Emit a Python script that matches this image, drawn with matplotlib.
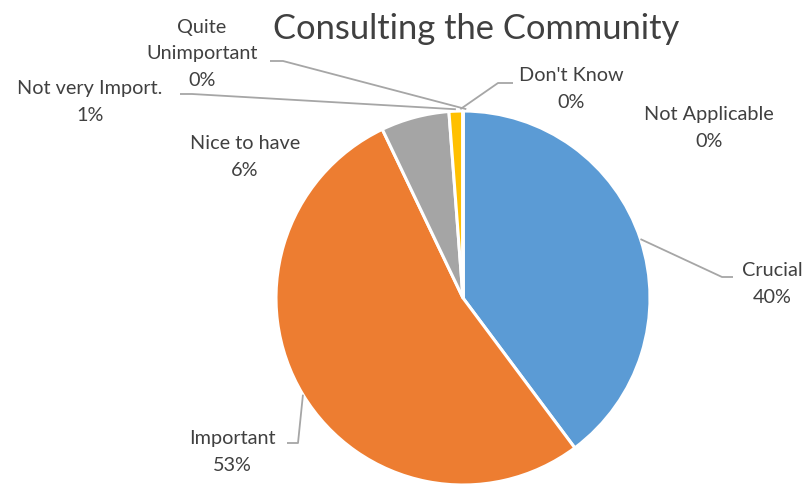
import matplotlib
matplotlib.use("Agg")
import matplotlib.pyplot as plt
import numpy as np

plt.rcParams['font.family'] = ['Lato', 'DejaVu Sans']

title = "Consulting the Community"
categories = ["Crucial", "Important", "Nice to have", "Not very Import.",
              "Quite\nUnimportant", "Don't Know", "Not Applicable"]
values = [39.8, 53.1, 5.9, 1.2, 0.0, 0.0, 0.0]
pct_labels = ["40%", "53%", "6%", "1%", "0%", "0%", "0%"]
colors = ["#5B9BD5", "#ED7D31", "#A5A5A5", "#FFC000", "#4472C4", "#70AD47", "#264478"]

W, H = 806, 486
fig = plt.figure(figsize=(W / 100, H / 100), dpi=100)
ax = fig.add_axes([0, 0, 1, 1])

cx, cy, R = 463, H - 298, 187
wedges, _ = ax.pie(values, colors=colors, startangle=90, counterclock=False,
                   center=(cx, cy), radius=R, frame=False,
                   wedgeprops=dict(edgecolor="white", linewidth=2.2))
ax.set_xlim(0, W)
ax.set_ylim(0, H)
ax.set_aspect("equal")
ax.set_axis_off()

txt_color = "#404040"
line_color = "#A6A6A6"
fs = 14.3

# label centre positions (pixel coords, y from top)
label_pos = {
    0: (772, 284),
    1: (232, 452),
    2: (245, 157),
    3: (90, 102),
    4: (202, 54),
    5: (571, 89),
    6: (709, 128),
}
elbows = {
    0: [(733, 277), (722, 277)],
    1: [(287, 443), (298, 443)],
    3: [(180, 94), (192, 94)],
    4: [(270, 61), (283, 61)],
    5: [(513, 83), (498, 83)],
}
pie_r = {0: 1.0, 1: 1.0, 3: 1.01, 4: 1.01, 5: 1.01}
angle_shift = {0: 0.0, 1: 0.0, 3: 0.0, 4: -1.0, 5: 0.8}

for i, (cat, pct) in enumerate(zip(categories, pct_labels)):
    x, y = label_pos[i]
    ax.text(x, H - y, f"{cat}\n{pct}", ha="center", va="center", fontsize=fs,
            color=txt_color, linespacing=1.7)
    if i in elbows:
        w = wedges[i]
        mid = np.deg2rad((w.theta1 + w.theta2) / 2 + angle_shift[i])
        px = cx + R * pie_r[i] * np.cos(mid)
        py = cy + R * pie_r[i] * np.sin(mid)
        pts = [(ex, H - ey) for ex, ey in elbows[i]] + [(px, py)]
        xs, ys = zip(*pts)
        ax.plot(xs, ys, color=line_color, lw=1.3, solid_capstyle="butt")

ax.text(476, H - 29, title, ha="center", va="center", fontsize=24.8, color=txt_color)

fig.savefig("out.png", dpi=100)
